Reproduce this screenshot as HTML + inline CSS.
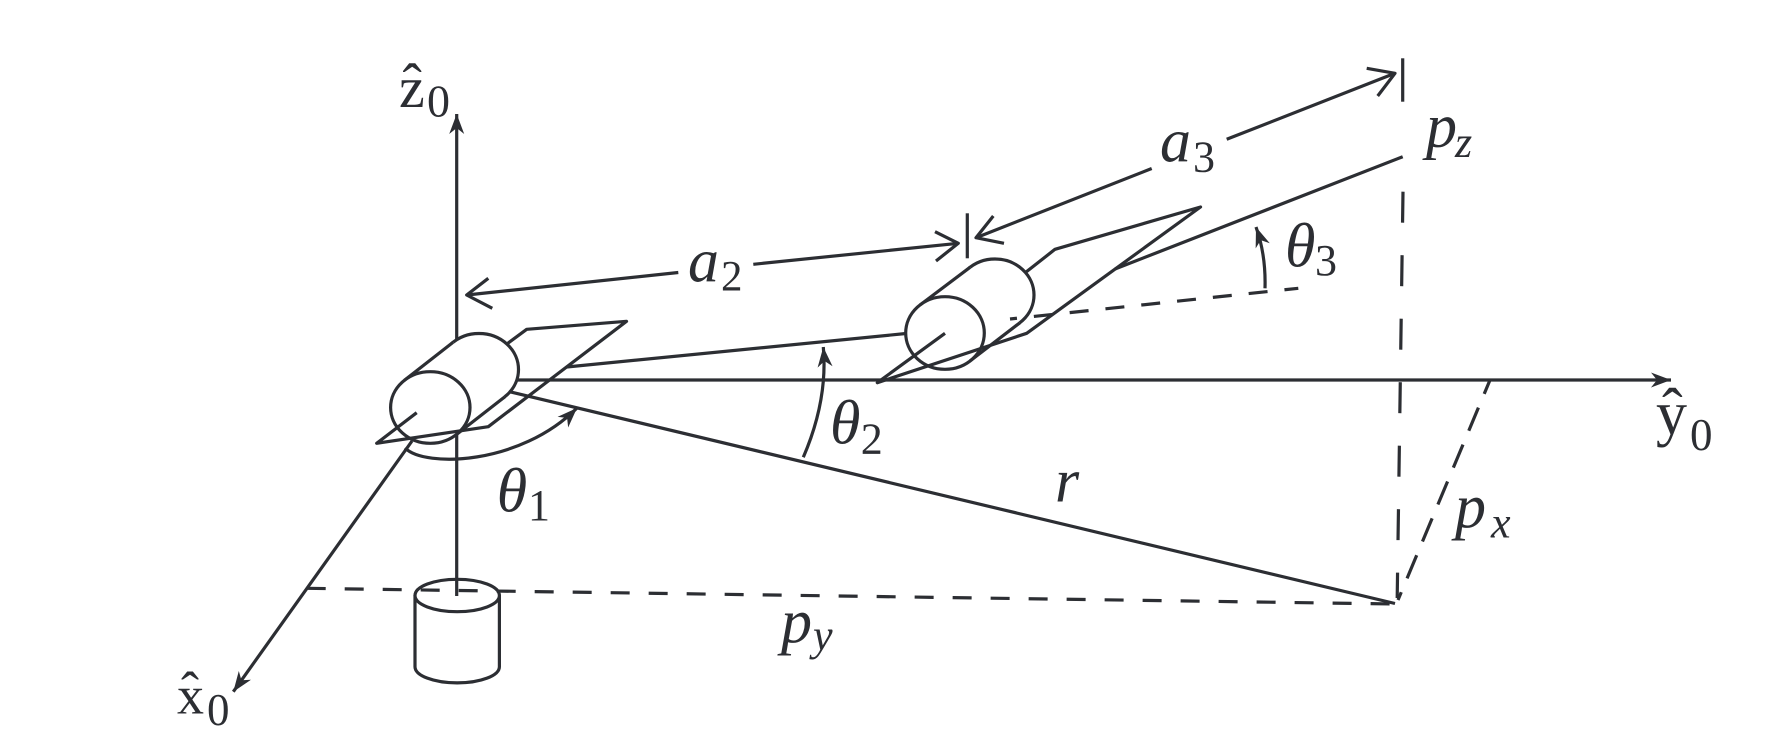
<!DOCTYPE html>
<html><head><meta charset="utf-8"><style>
html,body{margin:0;padding:0;background:#fff;}
svg{display:block;}
text{font-family:"Liberation Serif","DejaVu Serif",serif;fill:#2c2e33;}
.i{font-style:italic;}
</style></head><body>
<svg width="1774" height="746" viewBox="0 0 1774 746" xmlns="http://www.w3.org/2000/svg">
<defs>
<marker id="ah" viewBox="-22 -9 24 18" markerWidth="24" markerHeight="18" refX="0" refY="0" orient="auto" markerUnits="userSpaceOnUse">
<path d="M0,0 L-20,-7.5 L-14,0 L-20,7.5 Z" fill="#2c2e33" stroke="none"/>
</marker>
</defs>
<rect width="1774" height="746" fill="#fff"/>
<g fill="none" stroke="#2c2e33" stroke-width="3.2" stroke-linejoin="round">
<!-- base cylinder -->
<path d="M415,595.5 L415,666.7 A42.2,16.2 0 0 0 499.4,666.7 L499.4,595.5 Z" fill="#fff"/>
<ellipse cx="457.2" cy="595.5" rx="42.2" ry="16.2" fill="#fff"/>
<!-- py dashed -->
<line x1="306.7" y1="588.3" x2="1395" y2="604" stroke-dasharray="19 19"/>
<!-- z axis -->
<line x1="456.7" y1="596" x2="456.7" y2="114" marker-end="url(#ah)"/>
<!-- x0 axis -->
<line x1="412" y1="441" x2="233.3" y2="691.7" marker-end="url(#ah)"/>
<!-- pz vertical dashed -->
<line x1="1403" y1="191.7" x2="1397.2" y2="598" stroke-dasharray="31 32.5"/>
<!-- px dashed -->
<line x1="1490" y1="380" x2="1398" y2="600" stroke-dasharray="25 15" stroke-dashoffset="10"/>
<!-- r line -->
<line x1="510" y1="391.8" x2="1395" y2="603.5"/>
<!-- y0 axis -->
<line x1="517" y1="380" x2="1671" y2="380" marker-end="url(#ah)"/>
<!-- a2 dimension -->
<line x1="466.7" y1="295" x2="678.3" y2="272.5"/>
<line x1="753.3" y1="264.3" x2="958.3" y2="243.3"/>
<polyline points="488.3,278.3 466.7,295 492.3,308.3"/>
<polyline points="935,231.7 958.3,243.3 936,261"/>
<line x1="967.3" y1="213.3" x2="967.3" y2="258.3"/>
<!-- a3 dimension -->
<line x1="976" y1="237.7" x2="1151.7" y2="168.5"/>
<line x1="1226.7" y1="139.3" x2="1395" y2="73.3"/>
<polyline points="993.3,216 976,237.7 1004,243.3"/>
<polyline points="1366.7,68.3 1395,73.3 1377.7,96"/>
<line x1="1402.7" y1="58.3" x2="1402.7" y2="101.7"/>
<!-- links -->
<line x1="566.7" y1="367" x2="906" y2="333.5"/>
<line x1="1115" y1="269" x2="1402.7" y2="156.7"/>

<!-- cylinder 1 -->
<ellipse cx="479" cy="369.5" rx="39.5" ry="36" fill="#fff"/>
<polygon points="404.3,380.4 453.1,342.3 504.9,396.7 456.3,434.6" fill="#fff" stroke="none"/>
<ellipse cx="430.3" cy="407.5" rx="39.7" ry="35.8" fill="#fff"/>
<line x1="404.3" y1="380.4" x2="453.1" y2="342.3"/>
<line x1="456.3" y1="434.6" x2="504.9" y2="396.7"/>
<polyline points="416.7,412.7 376.7,443.3 488.3,426.7 626.5,321.3 526.7,329.3 506.7,344.1"/>
<!-- theta1 arc -->
<path d="M405,448 C425,468 520,465 577,408" marker-end="url(#ah)"/>

<!-- cylinder 2 -->
<ellipse cx="995" cy="295" rx="39" ry="36" fill="#fff"/>
<polygon points="920,305 970.2,267.2 1019.8,322.8 970,361" fill="#fff" stroke="none"/>
<ellipse cx="945" cy="333" rx="39.3" ry="36.3" fill="#fff"/>
<line x1="920" y1="305" x2="970.2" y2="267.2"/>
<line x1="970" y1="361" x2="1019.8" y2="322.8"/>
<polyline points="945,333.3 877.3,382.7 1026.7,333.3 1200.5,207 1055,249.3 1025.6,272.4"/>
<!-- theta3 dashed -->
<line x1="1010" y1="319" x2="1298.3" y2="288.3" stroke-dasharray="19 17" stroke-dashoffset="12"/>
<!-- theta2 arc -->
<path d="M803.3,457.3 Q828,400 823.3,347" marker-end="url(#ah)"/>
<!-- theta3 arc -->
<path d="M1265,288.3 Q1266,255 1256,227" marker-end="url(#ah)"/>
</g>

<!-- labels -->
<text x="399" y="107" font-size="58">z</text>
<text x="402.5" y="104" font-size="58">ˆ</text>
<text x="427" y="116.7" font-size="46">0</text>

<text x="1656" y="434" font-size="62">y</text>
<text x="1662" y="431" font-size="62">ˆ</text>
<text x="1690" y="450" font-size="45">0</text>

<text x="177" y="713.5" font-size="54">x</text>
<text x="181" y="709" font-size="54">ˆ</text>
<text x="207" y="725" font-size="45">0</text>

<text x="688" y="281.7" font-size="62" class="i">a</text>
<text x="721" y="290.7" font-size="43">2</text>

<text x="1160" y="161.7" font-size="62" class="i">a</text>
<text x="1193" y="171.7" font-size="44">3</text>

<text x="1426" y="146.5" font-size="62" class="i">p</text>
<text x="1455" y="157" font-size="44" class="i">z</text>

<text x="1285" y="266.7" font-size="62" class="i">θ</text>
<text x="1315" y="275" font-size="44">3</text>

<text x="830" y="443.3" font-size="62" class="i">θ</text>
<text x="860.7" y="453.3" font-size="44">2</text>

<text x="496.7" y="511.7" font-size="62" class="i">θ</text>
<text x="528" y="520" font-size="44">1</text>

<text x="1055" y="501.7" font-size="62" class="i">r</text>

<text x="1455" y="527" font-size="62" class="i">p</text>
<text x="1491" y="537.3" font-size="44" class="i">x</text>

<text x="781" y="642" font-size="62" class="i">p</text>
<text x="813" y="650" font-size="44" class="i">y</text>
</svg>
</body></html>
